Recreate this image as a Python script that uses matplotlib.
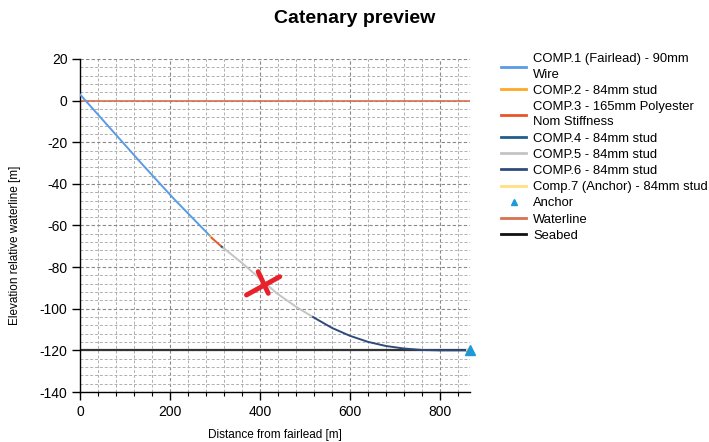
import matplotlib
matplotlib.use('Agg')
import matplotlib.pyplot as plt
from matplotlib.ticker import MultipleLocator
from matplotlib.lines import Line2D

plt.rcParams['font.family'] = ['Liberation Sans', 'DejaVu Sans']
plt.rcParams['axes.unicode_minus'] = False

# catenary segments (distance [m], elevation [m])
comp1_x = [0, 70, 140, 210, 289]
comp1_y = [3, -14, -31, -47.5, -65]
comp2_x = [289, 293]
comp2_y = [-65, -66]
comp3_x = [293, 315]
comp3_y = [-66, -70.2]
comp4_x = [315, 319]
comp4_y = [-70.2, -70.8]
comp5_x = [319, 360, 400, 437, 480, 518]
comp5_y = [-70.8, -78, -85.5, -92.5, -99, -104]
comp6_x = [518, 560, 600, 640, 680, 720, 760, 800, 860]
comp6_y = [-104, -109.2, -113, -115.9, -117.9, -119.1, -119.8, -120, -120]
comp7_x = [860, 867]
comp7_y = [-120, -120]

anchor_x = [867]
anchor_y = [-120]
waterline_y = 0
seabed_y = -120

labels = ['COMP.1 (Fairlead) - 90mm\nWire',
          'COMP.2 - 84mm stud',
          'COMP.3 - 165mm Polyester\nNom Stiffness',
          'COMP.4 - 84mm stud',
          'COMP.5 - 84mm stud',
          'COMP.6 - 84mm stud',
          'Comp.7 (Anchor) - 84mm stud',
          'Anchor', 'Waterline', 'Seabed']
colors = ['#5A9BE6', '#FFA726', '#E8552B', '#1F5E8E', '#C4C4C4',
          '#2F4B7C', '#FFE082', '#1E9AD6', '#D9704F', '#111111']

# hand-drawn red cross on the picture
cross1_x = [370, 444]
cross1_y = [-93.4, -84.6]
cross2_x = [396, 418.5]
cross2_y = [-82.2, -92.6]

fig = plt.figure(figsize=(7.09, 4.42), dpi=100)
ax = fig.add_axes([0.1128, 0.1131, 0.5502, 0.7535])

xmax = 867
ax.set_xlim(0, xmax)
ax.set_ylim(-140, 20)

ax.xaxis.set_major_locator(MultipleLocator(200))
ax.xaxis.set_minor_locator(MultipleLocator(40))
ax.yaxis.set_major_locator(MultipleLocator(20))
ax.yaxis.set_minor_locator(MultipleLocator(4))
ax.grid(which='major', color='#888888', linestyle=(0, (3, 2)), linewidth=0.8)
ax.grid(which='minor', color='#B0B0B0', linestyle=(0, (3, 2)), linewidth=0.7)
ax.set_axisbelow(True)

for s in ['top', 'right']:
    ax.spines[s].set_visible(False)
for s in ['left', 'bottom']:
    ax.spines[s].set_linewidth(1.0)

ax.tick_params(which='major', length=6, width=1, labelsize=10, pad=3)
ax.tick_params(axis='y', which='minor', length=0)
ax.tick_params(axis='x', which='minor', length=3, width=0.8)

ax.axhline(waterline_y, color=colors[8], lw=1.2, zorder=2)
ax.axhline(seabed_y, color='#333333', lw=1.6, zorder=2)

segs = [(comp1_x, comp1_y), (comp2_x, comp2_y), (comp3_x, comp3_y),
        (comp4_x, comp4_y), (comp5_x, comp5_y), (comp6_x, comp6_y),
        (comp7_x, comp7_y)]
for i, (sx, sy) in enumerate(segs):
    ax.plot(sx, sy, color=colors[i], lw=1.4, zorder=3)

ax.plot(anchor_x, anchor_y, marker='^', color=colors[7], ms=7, ls='none',
        clip_on=False, zorder=5)

ax.plot(cross1_x, cross1_y, color='#E8222B', lw=3.5, solid_capstyle='round', zorder=6)
ax.plot(cross2_x, cross2_y, color='#E8222B', lw=3.5, solid_capstyle='round', zorder=6)

ax.set_xlabel('Distance from fairlead [m]', fontsize=8.5)
ax.set_ylabel('Elevation relative waterline [m]', fontsize=8.5)
ax.xaxis.set_label_coords(0.5, -0.112)
ax.yaxis.set_label_coords(-0.152, 0.44)

fig.suptitle('Catenary preview', fontsize=14, fontweight='bold', x=0.5, y=0.977)

handles = []
for i in range(7):
    handles.append(Line2D([], [], color=colors[i], lw=2))
handles.append(Line2D([], [], color=colors[7], marker='^', ms=5, ls='none'))
handles.append(Line2D([], [], color=colors[8], lw=2))
handles.append(Line2D([], [], color=colors[9], lw=2))

leg = fig.legend(handles, labels, loc='upper left', bbox_to_anchor=(0.707, 0.88),
                 frameon=False, fontsize=9.4, handlelength=1.9, handletextpad=0.55,
                 labelspacing=0.31, borderaxespad=0, borderpad=0)
for t in leg.get_texts():
    t.set_linespacing(1.4)

fig.savefig('out.png', dpi=100)
